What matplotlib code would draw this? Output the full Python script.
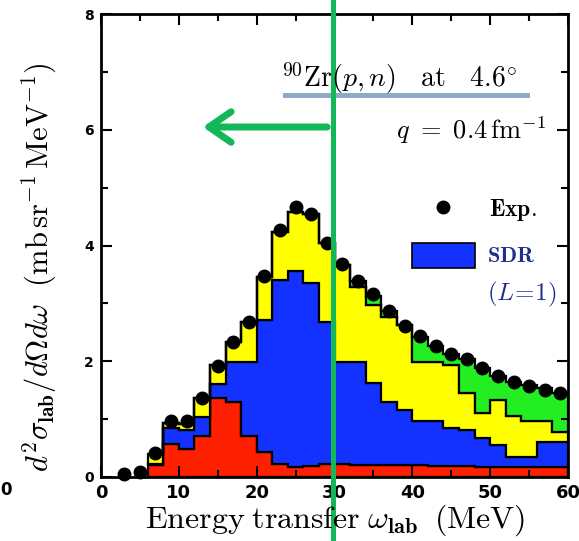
import numpy as np
import matplotlib
matplotlib.use("Agg")
import matplotlib.pyplot as plt
from matplotlib.ticker import MultipleLocator

plt.rcParams['mathtext.fontset'] = 'cm'

# bin edges of the histogram (MeV)
edges = np.arange(6, 61, 2)

# stacked components (mb/sr/MeV), bottom to top
red = [0.20, 0.57, 0.48, 0.71, 1.36, 1.30, 0.70, 0.44, 0.22, 0.17, 0.19, 0.22, 0.22, 0.20,
       0.21, 0.21, 0.21, 0.20, 0.19, 0.19, 0.19, 0.18, 0.17, 0.17, 0.17, 0.17, 0.17]
sdr = [0.02, 0.28, 0.34, 0.33, 0.25, 0.69, 1.29, 2.28, 3.19, 3.39, 3.17, 2.46, 1.77, 1.79,
       1.41, 1.09, 0.94, 0.77, 0.78, 0.66, 0.62, 0.50, 0.38, 0.17, 0.17, 0.43, 0.43]
yellow = [0.18, 0.08, 0.10, 0.32, 0.32, 0.35, 0.68, 0.74, 0.83, 1.02, 1.19, 1.36, 1.68, 1.29,
          1.35, 1.47, 1.48, 1.02, 1.02, 1.08, 0.65, 0.43, 0.78, 0.72, 0.62, 0.36, 0.18]
green = [0, 0, 0, 0, 0, 0, 0, 0, 0, 0, 0, 0, 0, 0.11,
         0.16, 0.09, 0.0, 0.43, 0.28, 0.20, 0.58, 0.78, 0.42, 0.59, 0.63, 0.57, 0.68]

# experimental points
exp_x = np.arange(3, 60, 2)
exp_y = [0.06, 0.09, 0.42, 0.97, 0.97, 1.36, 1.92, 2.34, 2.67, 3.47, 4.27, 4.66, 4.54, 4.04,
         3.68, 3.39, 3.16, 2.86, 2.61, 2.43, 2.27, 2.12, 2.04, 1.88, 1.74, 1.64, 1.57, 1.51, 1.46]

layers = [red, sdr, yellow, green]
colors = ['#ff2000', '#1432ff', '#ffff00', '#22ee22']

fig = plt.figure(figsize=(5.79, 5.41), dpi=100)
ax = fig.add_axes([101/579, 1-477/541, 467/579, 463/541])

bottom = np.zeros(len(edges) - 1)
for vals, c in zip(layers, colors):
    top = bottom + np.array(vals)
    ax.stairs(top, edges, baseline=bottom, fill=True, facecolor=c, edgecolor='k', lw=1.6)
    bottom = top

ax.plot(exp_x, exp_y, 'o', color='k', ms=9, clip_on=False, zorder=5)

ax.set_xlim(0, 60)
ax.set_ylim(0, 8)
ax.xaxis.set_major_locator(MultipleLocator(10))
ax.xaxis.set_minor_locator(MultipleLocator(5))
ax.yaxis.set_major_locator(MultipleLocator(2))
ax.yaxis.set_minor_locator(MultipleLocator(1))
ax.tick_params(which='both', direction='in', top=True, right=True, width=1.5)
ax.tick_params(which='major', length=8)
ax.tick_params(which='minor', length=5)
ax.tick_params(axis='x', labelsize=13, pad=5)
ax.tick_params(axis='y', labelsize=10, pad=5)
for lab in ax.get_xticklabels() + ax.get_yticklabels():
    lab.set_fontweight('bold')
for s in ax.spines.values():
    s.set_linewidth(2)

fig.text(145/579, 1-520/541, r'$\mathrm{Energy\;transfer}\;\omega_{\mathbf{lab}}\;\;\mathrm{(MeV)}$',
         ha='left', va='center', fontsize=23)
fig.text(40/579, 1-472/541,
         r'$d^2\sigma_{\mathbf{lab}}/d\Omega d\omega\ \ \mathrm{(mb\,sr^{-1}\,MeV^{-1})}$',
         rotation=90, ha='center', va='bottom', fontsize=22)

fig.text(281/579, 1-87/541, r'$^{90}\mathrm{Zr}(p,n)\ \ \ \mathrm{at}\ \ \ 4.6^{\circ}$',
         ha='left', va='baseline', fontsize=20)
fig.text(546/579, 1-130/541, r'$q\ =\ 0.4\,\mathrm{fm}^{-1}$', ha='right', va='center', fontsize=19)

# legend
fig.add_artist(plt.Line2D([443/579], [1-207/541], marker='o', color='k', ms=9, ls=''))
fig.text(489/579, 1-210/541, r'$\mathbf{Exp.}$', ha='left', va='center', fontsize=17)
fig.add_artist(plt.Rectangle((412/579, 1-268/541), 63/579, 25/541, facecolor='#1432ff',
                             edgecolor='k', lw=1.2))
fig.text(487/579, 1-256/541, r'$\mathbf{SDR}$', ha='left', va='center', fontsize=16, color='#1f2f8f')
fig.text(487/579, 1-294/541, r'$(\mathbf{\mathit{L}}\!=\!\mathbf{1})$', ha='left', va='center',
         fontsize=18, color='#1f2f8f')

# overlay marks
fig.add_artist(plt.Line2D([285/579, 527/579], [1-95/541, 1-95/541], color='#8eaacb', lw=3.6))
fig.add_artist(plt.Line2D([333/579, 333/579], [0, 1], color='#12b857', lw=3.6))
ax.annotate('', xy=(200, 541-127), xytext=(330, 541-127), xycoords='figure pixels',
            textcoords='figure pixels',
            arrowprops=dict(arrowstyle='->, head_length=1.6, head_width=1.1', lw=5, color='#12b857'))

fig.text(0, 1-490/541, '0', ha='left', va='center', fontsize=12, fontweight='bold')

fig.savefig('out.png', dpi=100)
